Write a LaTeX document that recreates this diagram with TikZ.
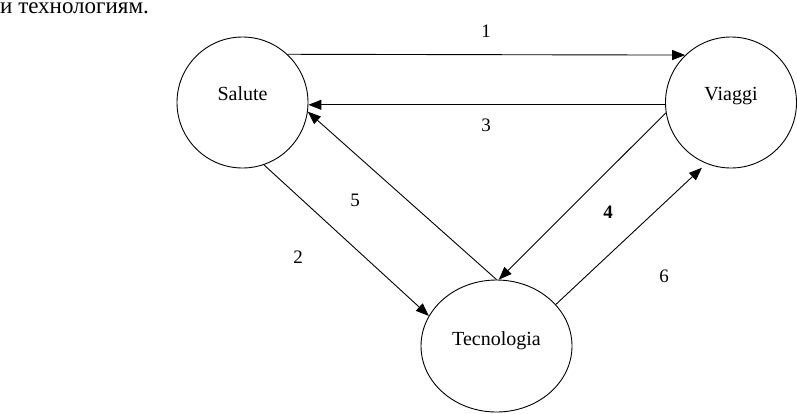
\documentclass[tikz,border=0pt]{standalone}
\usepackage{fontspec}
\setmainfont{Liberation Serif}
\usetikzlibrary{shapes.geometric,arrows.meta}
\begin{document}
\begin{tikzpicture}[x=1pt,y=-1pt,
  every node/.style={font=\fontsize{20}{24}\selectfont},
  bub/.style={draw, line width=0.9pt, circle, minimum size=131pt, inner sep=0pt, text height=14pt, text depth=18pt},
  oval/.style={draw, line width=0.9pt, ellipse, minimum width=151pt, minimum height=132pt, inner sep=0pt, text height=14pt, text depth=16pt},
  conn/.style={line width=0.9pt, -{Triangle[length=13pt,width=10pt]}},
  num/.style={font=\fontsize{19}{22}\selectfont, inner sep=0pt}]
\useasboundingbox (0,0) rectangle (797,413);
\node[anchor=base west, inner sep=0pt, font=\fontsize{23}{26}\selectfont] (top) at (0,13) {и технологиям.};
\node[bub] (s) at (242.5,102.5) {Salute};
\node[bub] (v) at (731,102.5) {Viaggi};
\node[oval] (t) at (496.5,346) {Tecnologia};
\draw[conn] (s.47) -- (v.134);
\draw[conn] (v.182) -- (s.-2);
\draw[conn] (t.north) -- (s.-8);
\draw[conn] (s.-71) -- (t.156);
\draw[conn] (v.189) -- (t.88);
\draw[conn, shorten >=6pt] (t.35) -- (v.-112);
\node[num] (n1) at (486,31.5) {1};
\node[num] (n3) at (486,125) {3};
\node[num] (n5) at (355,200) {5};
\node[num] (n2) at (298,257) {2};
\node[num, font=\fontsize{19}{22}\selectfont\bfseries] (n4) at (608,212) {4};
\node[num] (n6) at (664,276) {6};
\end{tikzpicture}
\end{document}
